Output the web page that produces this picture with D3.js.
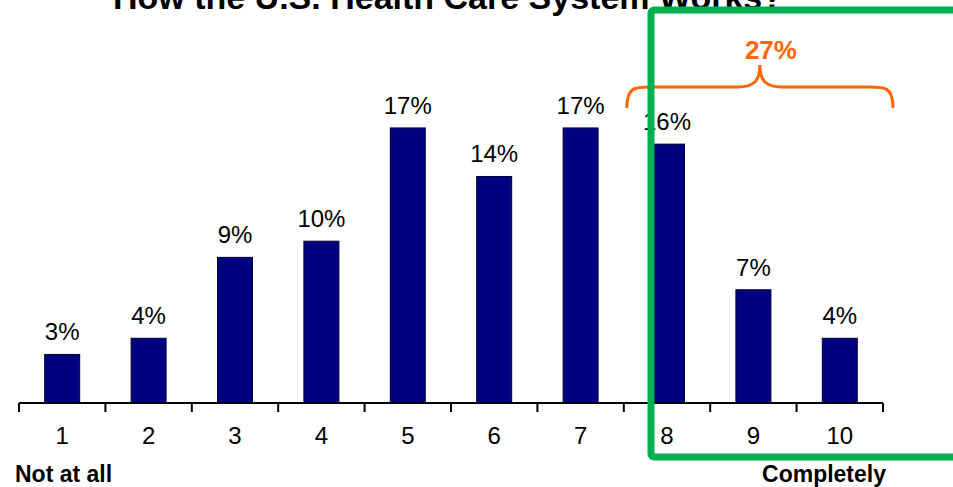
<!DOCTYPE html>
<html><head><meta charset="utf-8">
<script src="https://cdn.jsdelivr.net/npm/d3@7"></script>
<style>body{margin:0;background:#fff}svg{display:block}</style>
</head><body>
<svg id="c" width="953" height="487"></svg>
<script>
const categories = ["1","2","3","4","5","6","7","8","9","10"];
const values = [3,4,9,10,17,14,17,16,7,4];
const valueLabels = ["3%","4%","9%","10%","17%","14%","17%","16%","7%","4%"];
const endLabels = ["Not at all","Completely"];
const title = "How the U.S. Health Care System Works?";
const bracketLabel = "27%";

const svg = d3.select("#c");
const font = "'Liberation Sans', Arial, sans-serif";
const axisY = 403;
const x = d3.scaleBand().domain(categories).range([19, 883]);
const y = d3.scaleLinear().domain([0, 20]).range([axisY, axisY - 20*16.18]);
const bw = x.bandwidth()*0.405;

// title
svg.append("text").attr("x", 448).attr("y", 9).attr("text-anchor","middle")
  .attr("font-family", font).attr("font-weight","bold").attr("font-size", 34)
  .attr("fill","#000").text(title);

// bars
svg.selectAll("rect.bar").data(values).enter().append("rect")
  .attr("class","bar")
  .attr("x",(d,i)=>x(categories[i]) + x.bandwidth()/2 - bw/2)
  .attr("y",d=>y(d)).attr("width",bw).attr("height",d=>axisY - y(d))
  .attr("fill","#000080").attr("stroke","#000033").attr("stroke-width",1);

// value labels
svg.selectAll("text.val").data(values).enter().append("text")
  .attr("class","val")
  .attr("x",(d,i)=>x(categories[i]) + x.bandwidth()/2)
  .attr("y",d=>y(d)-14).attr("text-anchor","middle")
  .attr("font-family",font).attr("font-size",24).attr("fill","#000")
  .text((d,i)=>valueLabels[i]);

// axis
const ax = svg.append("g").attr("transform",`translate(0,${axisY})`)
  .call(d3.axisBottom(x).tickSize(0));
ax.select(".domain").remove();
ax.selectAll("text").attr("font-family",font).attr("font-size",24).attr("fill","#000")
  .attr("y",41).attr("dy",0);
svg.append("line").attr("x1",19).attr("x2",883).attr("y1",axisY).attr("y2",axisY)
  .attr("stroke","#000").attr("stroke-width",2);
const bounds = categories.map(c=>x(c)).concat([x(categories[9])+x.bandwidth()]);
svg.selectAll("line.tk").data(bounds).enter().append("line")
  .attr("x1",d=>d).attr("x2",d=>d).attr("y1",axisY).attr("y2",axisY+9)
  .attr("stroke","#000").attr("stroke-width",2);

// end labels
svg.append("text").attr("x",15).attr("y",482).attr("font-family",font)
  .attr("font-weight","bold").attr("font-size",23).text(endLabels[0]);
svg.append("text").attr("x",886).attr("y",482).attr("text-anchor","end").attr("font-family",font)
  .attr("font-weight","bold").attr("font-size",23).text(endLabels[1]);

// bracket
const bx0 = x("8") + 3, bx1 = x("10") + x.bandwidth() + 10;
const bmid = (bx0+bx1)/2, by = 87, bEnd = 108, bPeak = 65;
const p = d3.path();
p.moveTo(bx0, bEnd);
p.bezierCurveTo(bx0, by, bx0+8, by, bx0+24, by);
p.lineTo(bmid-22, by);
p.bezierCurveTo(bmid-6, by, bmid, by-6, bmid, bPeak);
p.bezierCurveTo(bmid, by-6, bmid+6, by, bmid+22, by);
p.lineTo(bx1-24, by);
p.bezierCurveTo(bx1-8, by, bx1, by, bx1, bEnd);
svg.append("path").attr("d",p.toString()).attr("fill","none")
  .attr("stroke","#ff6600").attr("stroke-width",3);
svg.append("text").attr("x",bmid+11).attr("y",59).attr("text-anchor","middle")
  .attr("font-family",font).attr("font-weight","bold").attr("font-size",26)
  .attr("fill","#ff6600").text(bracketLabel);

// green highlight box
svg.append("rect").attr("x",651).attr("y",10).attr("width",420).attr("height",447)
  .attr("rx",3).attr("fill","none").attr("stroke","#00b050").attr("stroke-width",7);
</script>
</body></html>
